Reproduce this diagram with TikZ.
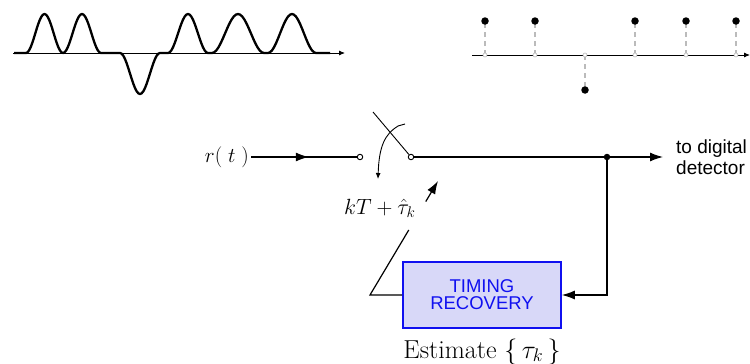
\RequirePackage{fix-cm}
\documentclass[tikz,border=0pt]{standalone}
\usepackage{fontspec}
\newfontfamily\sansf{Liberation Sans}
\usetikzlibrary{arrows.meta,calc}
\definecolor{boxfill}{HTML}{D8D8F8}
\definecolor{boxblue}{HTML}{1010F0}
\definecolor{stemgray}{HTML}{BBBBBB}
\begin{document}
\begin{tikzpicture}[x=1pt,y=-1pt,
  wire/.style={line width=1.2pt},
  bigtip/.style={-{Latex[length=13pt,width=9pt]}},
  smalltip/.style={-{Latex[length=6pt,width=5pt]}},
  wave/.style={line width=2.3pt,line join=round},
  term/.style={circle,draw,fill=white,inner sep=0pt,minimum size=5.5pt,line width=0.9pt},
  jdot/.style={circle,fill=black,inner sep=0pt,minimum size=6.5pt},
  sdot/.style={circle,fill=black,inner sep=0pt,minimum size=7.5pt},
  scirc/.style={circle,draw=stemgray,fill=white,inner sep=0pt,minimum size=4pt,line width=0.6pt},
  stem/.style={draw=stemgray,line width=2pt,dash pattern=on 5pt off 4pt},
  trbox/.style={draw=boxblue,fill=boxfill,line width=1.6pt,minimum width=158pt,minimum height=66pt,
     text=boxblue,align=center,font=\sansf\fontsize{18.5}{17}\selectfont}
]
\useasboundingbox (0,0) rectangle (750,364);

% ---- top-left analog waveform ----
\draw[line width=0.8pt,smalltip] (13,53) -- (345,53);
\draw[wave] (14,53) -- (26,53)
  -- plot[domain=26:63,samples=25] (\x,{53-39*(1+cos(180*(\x-44.5)/18.5))/2})
  -- plot[domain=63:101,samples=25] (\x,{53-39*(1+cos(180*(\x-82)/19))/2})
  -- (120,53)
  -- plot[domain=120:160,samples=25] (\x,{53+41*(1+cos(180*(\x-140)/20))/2})
  -- (168,53)
  -- plot[domain=168:208,samples=25] (\x,{53-39*(1+cos(180*(\x-188)/20))/2})
  -- (212,53)
  -- plot[domain=212:264,samples=25] (\x,{53-39*(1+cos(180*(\x-238)/26))/2})
  -- (268,53)
  -- plot[domain=268:316,samples=25] (\x,{53-39*(1+cos(180*(\x-292)/24))/2})
  -- (330,53);

% ---- top-right sampled sequence ----
\draw[line width=0.9pt,smalltip] (472,55) -- (750,55);
\foreach \sx/\sy in {485/21,535/21,585/90,635/21,686/21,736/21}{
  \draw[stem] (\sx,55) -- (\sx,\sy);
  \node[sdot] at (\sx,\sy) {};
  \node[scirc] at (\sx,55) {};
}

% ---- main signal path ----
\node[anchor=east,font=\fontsize{21}{24}\selectfont,inner sep=2pt] (rt) at (251,157) {$r(\;t\;)$};
\node[term] (t1) at (360,157) {};
\node[term] (t2) at (411,157) {};
\node[jdot] (jn) at (607,157) {};
\coordinate (out) at (663,157);
\node[anchor=north west,inner sep=0pt,align=left,font=\sansf\fontsize{19}{21}\selectfont] (dd) at (676,140) {to digital\\detector};

\draw[wire] (rt.east) -- (t1);
\draw[wire,bigtip] (rt.east) -- ($(rt.east)!0.53!(t1)$);
\draw[wire] (t2) -- (jn);
\draw[wire,bigtip] (jn) -- (out);

% switch
\coordinate (bladetop) at (373,112);
\draw[line width=0.9pt] (bladetop) -- (t2);
\coordinate (ctl) at (405,124);
\coordinate (ctlend) at (378,179);
\draw[line width=0.9pt,smalltip] (ctl) -- (398,126) .. controls (385,134) and (379,146) .. (ctlend);

% timing recovery loop
\node[trbox] (tr) at (482,295) {TIMING\\RECOVERY};
\node[anchor=base,font=\fontsize{26}{28}\selectfont] (est) at (482,358) {Estimate $\{\,\tau_k\,\}$};
\draw[wire,bigtip] (jn) |- (tr.east);

\coordinate (corner) at (370,295);
\coordinate (ktip) at (438,181);
\draw[wire] (tr.west) -- (corner) -- ($(corner)!0.57!(ktip)$);
\draw[wire,bigtip] ($(corner)!0.82!(ktip)$) -- (ktip);
\node[anchor=base west,font=\fontsize{22}{24}\selectfont,inner sep=0pt] (kt) at (344,214) {$kT+\hat\tau_k$};
\end{tikzpicture}
\end{document}
